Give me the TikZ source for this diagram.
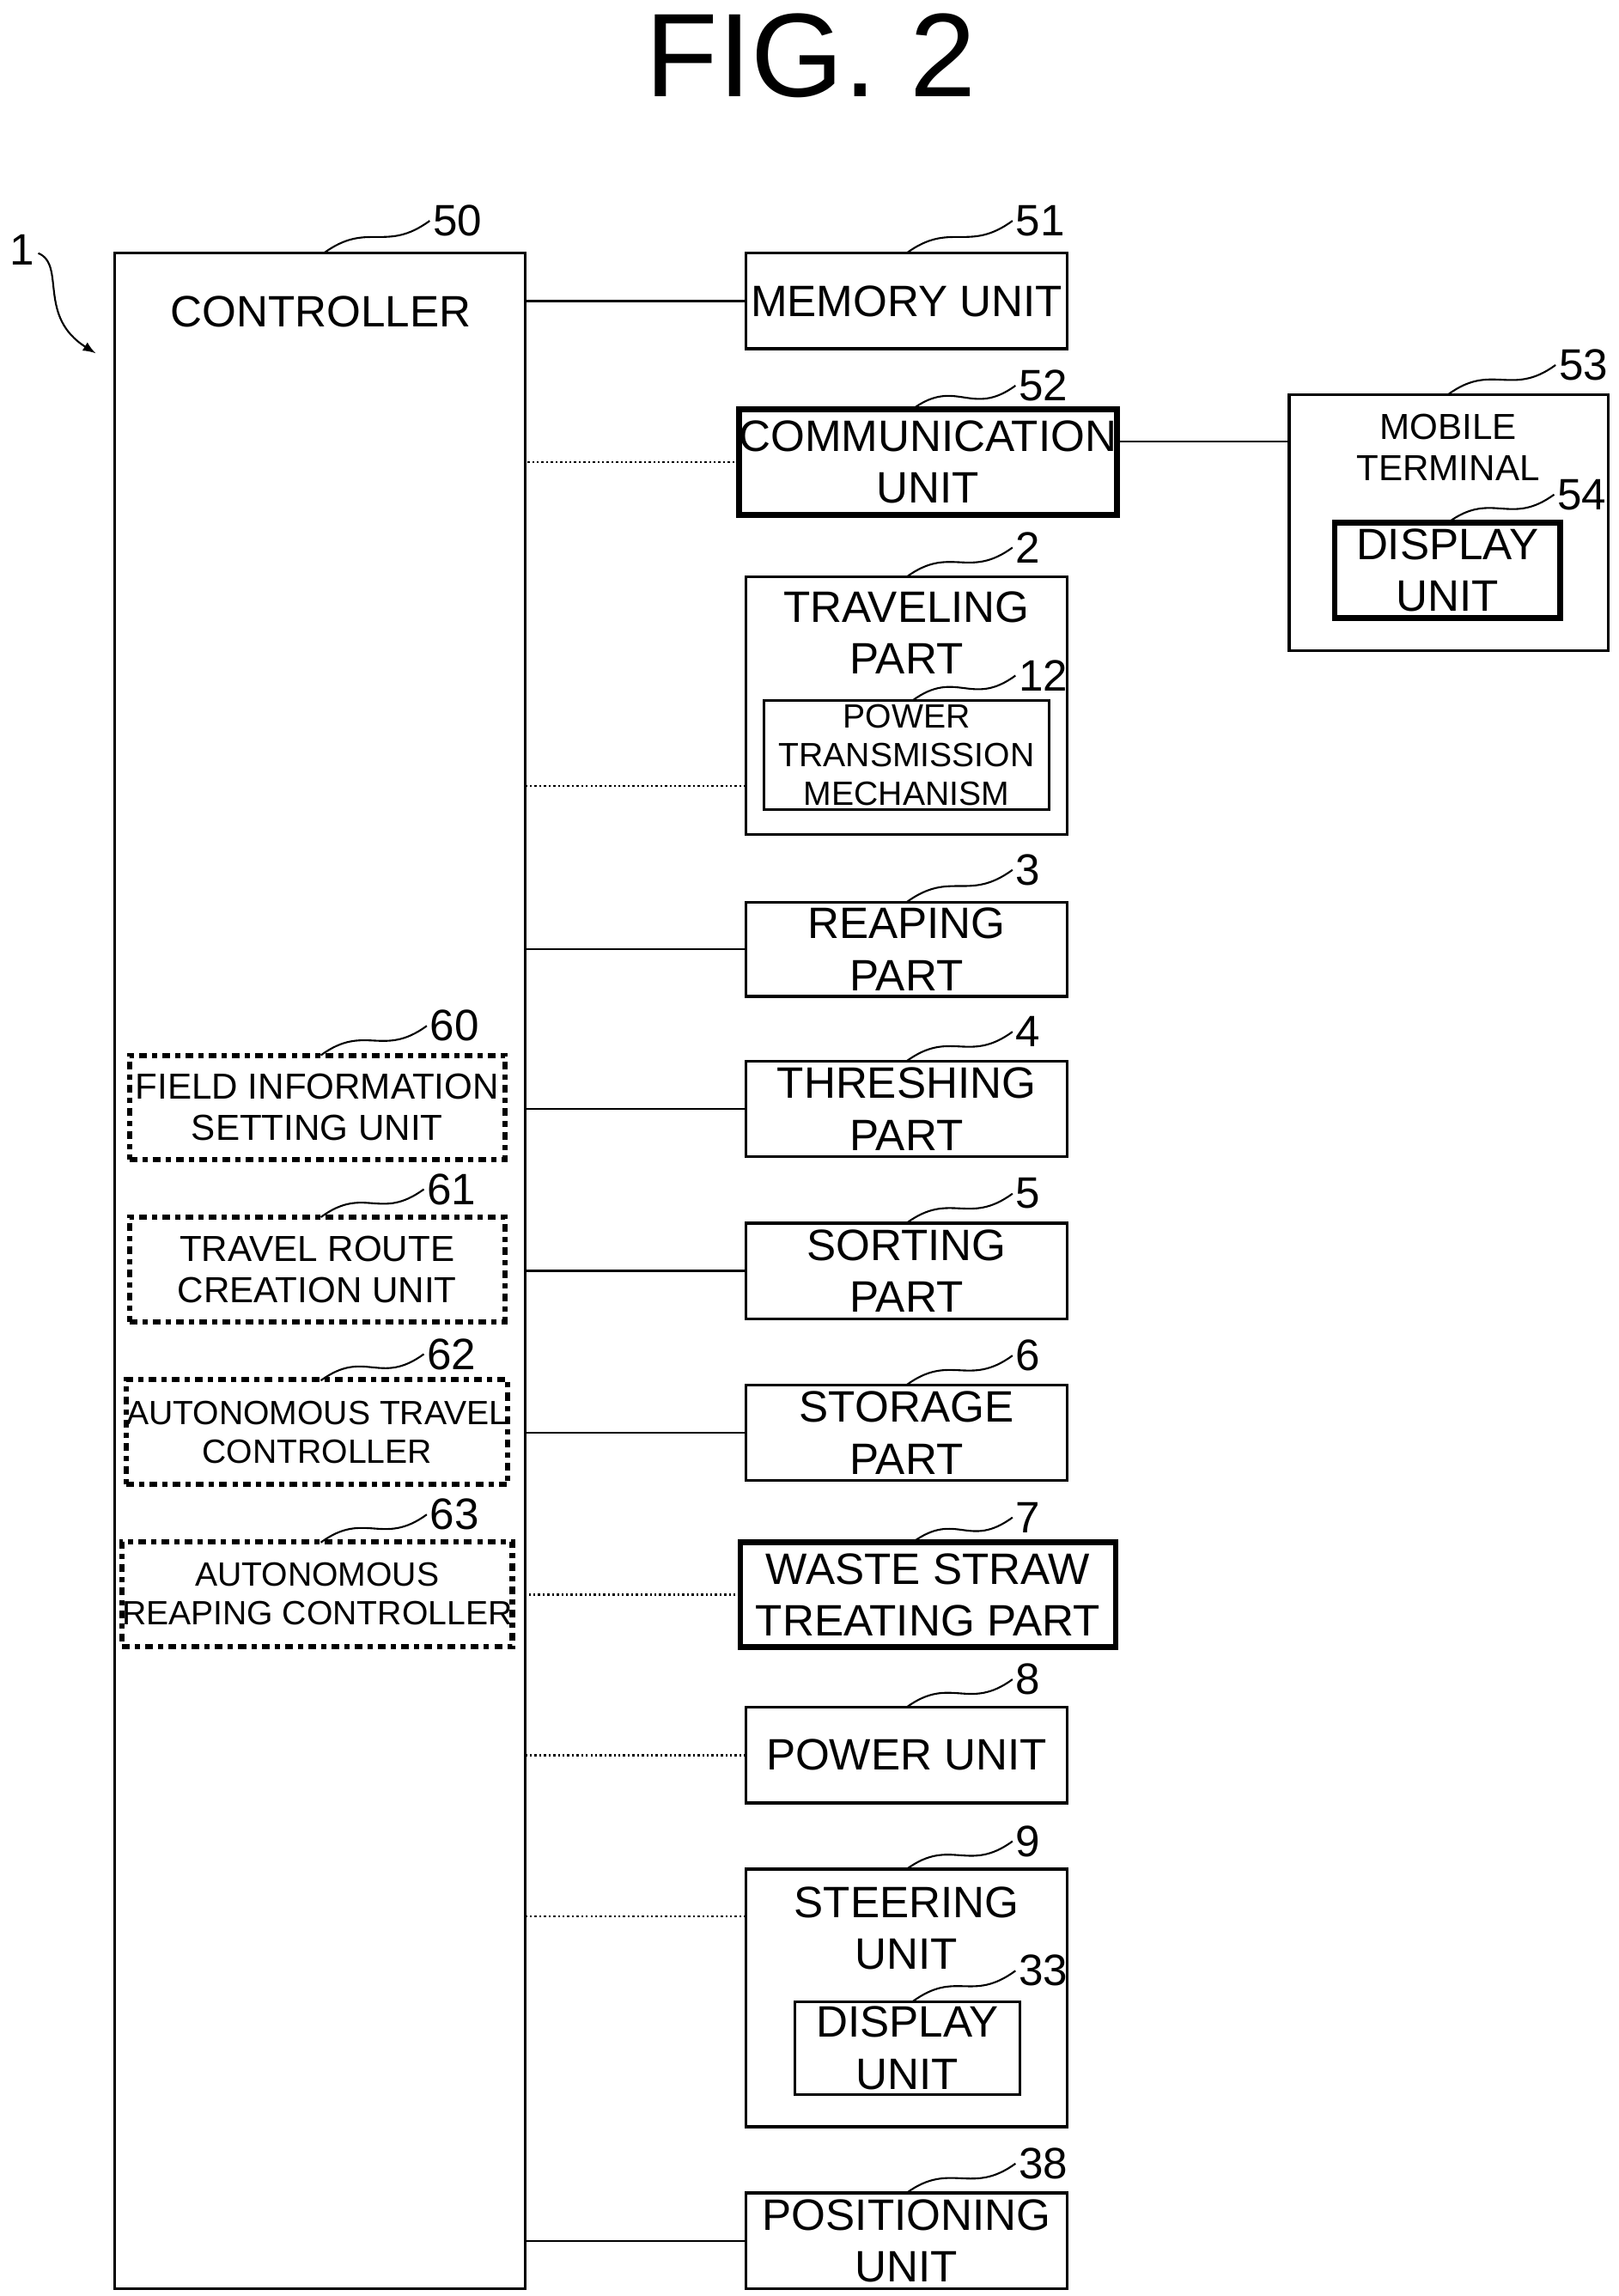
\documentclass[tikz,border=0pt]{standalone}
\usepackage{fontspec}
\setmainfont{Liberation Sans}
\usetikzlibrary{calc,positioning}
\tikzset{
  box/.style={draw,line width=1.1pt,inner sep=0pt,outer sep=0pt,align=center,font=\fontsize{17}{20}\selectfont},
  tbox/.style={box,line width=2.2pt},
  sbox/.style={box,font=\fontsize{13}{15}\selectfont},
  dbox/.style={box,line width=2pt,dash dot,font=\fontsize{14}{16}\selectfont},
  wire/.style={line width=0.8pt},
  dwire/.style={line width=0.8pt,densely dotted},
  lead/.style={line width=0.7pt},
  refno/.style={font=\fontsize{17}{20}\selectfont,anchor=west,inner sep=1pt}
}
\newcommand{\refmark}[3]{\draw[lead] (#1) .. controls +(30,-22) and +(-30,22) .. (#2) node[refno] {#3};}
\begin{document}
\begin{tikzpicture}[x=0.02cm,y=-0.02cm]
\useasboundingbox (0,0) rectangle (1100,1560);
\node[font=\fontsize{46}{50}\selectfont] (title) at (551,38) {FIG. 2};
% controller
\node[box,minimum width=279*0.02cm,minimum height=1383*0.02cm] (ctrl) at (217.5,863.5) {};
\node[font=\fontsize{17}{20}\selectfont] (ctrltxt) at (218,212) {CONTROLLER};
\node[dbox,minimum width=255*0.02cm,minimum height=71*0.02cm] (fis) at (215.5,752.5) {FIELD INFORMATION\\SETTING UNIT};
\node[dbox,minimum width=255*0.02cm,minimum height=71*0.02cm] (trc) at (215.5,862.5) {TRAVEL ROUTE\\CREATION UNIT};
\node[dbox,minimum width=255*0.02cm,minimum height=71*0.02cm,font=\fontsize{13}{15}\selectfont] (atc) at (215.5,973) {AUTONOMOUS TRAVEL\\CONTROLLER};
\node[dbox,minimum width=255*0.02cm,minimum height=71*0.02cm,font=\fontsize{13}{15}\selectfont] (arc) at (215.5,1083) {AUTONOMOUS\\REAPING CONTROLLER};
% units
\node[box,minimum width=218*0.02cm,minimum height=65*0.02cm] (mem) at (616,204.5) {MEMORY UNIT};
\node[tbox,minimum width=255*0.02cm,minimum height=72*0.02cm] (comm) at (630.5,314) {COMMUNICATION\\UNIT};
\node[box,minimum width=218*0.02cm,minimum height=175*0.02cm] (trav) at (616,479.5) {};
\node[font=\fontsize{17}{20}\selectfont,align=center] (travtxt) at (616,430) {TRAVELING\\PART};
\node[tbox,sbox,minimum width=194*0.02cm,minimum height=74*0.02cm] (ptm) at (616,513) {POWER\\TRANSMISSION\\MECHANISM};
\node[box,minimum width=218*0.02cm,minimum height=64*0.02cm] (reap) at (616,645) {REAPING\\PART};
\node[box,minimum width=218*0.02cm,minimum height=65*0.02cm] (thr) at (616,753.5) {THRESHING\\PART};
\node[box,minimum width=218*0.02cm,minimum height=65*0.02cm] (sort) at (616,863.5) {SORTING\\PART};
\node[box,minimum width=218*0.02cm,minimum height=65*0.02cm] (stor) at (616,973.5) {STORAGE\\PART};
\node[tbox,minimum width=255*0.02cm,minimum height=71*0.02cm] (waste) at (630.5,1083.5) {WASTE STRAW\\TREATING PART};
\node[box,minimum width=218*0.02cm,minimum height=65*0.02cm] (pow) at (616,1192.5) {POWER UNIT};
\node[box,minimum width=218*0.02cm,minimum height=175*0.02cm] (steer) at (616,1357.5) {};
\node[font=\fontsize{17}{20}\selectfont,align=center] (steertxt) at (616,1310) {STEERING\\UNIT};
\node[box,minimum width=153*0.02cm,minimum height=63*0.02cm] (sdisp) at (616.5,1391.5) {DISPLAY\\UNIT};
\node[box,minimum width=218*0.02cm,minimum height=65*0.02cm] (posn) at (616,1522.5) {POSITIONING\\UNIT};
\node[box,minimum width=217*0.02cm,minimum height=174*0.02cm] (mob) at (984.5,355) {};
\node[font=\fontsize{14}{16}\selectfont,align=center] (mobtxt) at (984,304) {MOBILE\\TERMINAL};
\node[tbox,minimum width=153*0.02cm,minimum height=65*0.02cm] (mdisp) at (983.5,387.5) {DISPLAY\\UNIT};
% connectors
\draw[wire] (mem.west) -- (mem.west -| ctrl.east);
\draw[dwire] (comm.west) -- (comm.west -| ctrl.east);
\draw[wire] (comm.east |- mob.west) ++(0,-55) coordinate (c1) -- (c1 -| mob.west);
\draw[dwire] (trav.west |- 0,534) -- (ctrl.east |- 0,534);
\draw[wire] (reap.west) -- (reap.west -| ctrl.east);
\draw[wire] (thr.west) -- (thr.west -| ctrl.east);
\draw[wire] (sort.west) -- (sort.west -| ctrl.east);
\draw[wire] (stor.west) -- (stor.west -| ctrl.east);
\draw[dwire] (waste.west) -- (waste.west -| ctrl.east);
\draw[dwire] (pow.west) -- (pow.west -| ctrl.east);
\draw[dwire] (steer.west |- 0,1302) -- (ctrl.east |- 0,1302);
\draw[wire] (posn.west) -- (posn.west -| ctrl.east);
% reference numerals
\refmark{220,172}{292,150}{50}
\refmark{616,172}{688,150}{51}
\refmark{620,278}{690,262}{52}
\refmark{616,392}{688,372}{2}
\refmark{620,476}{690,459}{12}
\refmark{616,613}{688,591}{3}
\refmark{616,721}{688,701}{4}
\refmark{616,831}{688,811}{5}
\refmark{616,941}{688,921}{6}
\refmark{620,1048}{688,1031}{7}
\refmark{616,1160}{688,1141}{8}
\refmark{616,1270}{688,1251}{9}
\refmark{620,1360}{690,1339}{33}
\refmark{616,1490}{690,1470}{38}
\refmark{984,268}{1057,248}{53}
\refmark{984,355}{1056,336}{54}
\refmark{218,717}{290,697}{60}
\refmark{218,827}{288,808}{61}
\refmark{218,938}{288,920}{62}
\refmark{218,1048}{290,1029}{63}
\node[font=\fontsize{17}{20}\selectfont] (one) at (15,170) {1};
\draw[lead,-latex] (26,172) .. controls (45,180) and (25,215) .. (65,240);
\end{tikzpicture}
\end{document}
